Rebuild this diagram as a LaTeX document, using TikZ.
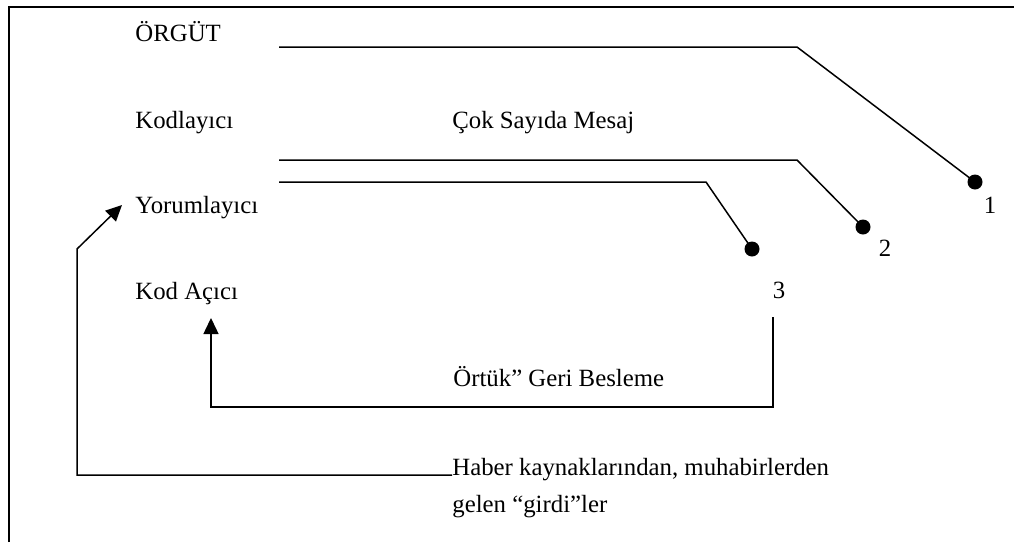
\documentclass[tikz,border=0pt]{standalone}
\usepackage{fontspec}
\setmainfont{Liberation Serif}
\usetikzlibrary{arrows.meta}
\begin{document}
\begin{tikzpicture}[x=0.5pt,y=-0.5pt]

    \tikzset{
      txt/.style={
        anchor=base west,
        inner sep=0pt,
        font=\fontsize{12.4}{14}\selectfont,
      },
      num/.style={
        anchor=base,
        inner sep=0pt,
        font=\fontsize{12.4}{14}\selectfont,
      },
      dot/.style={
        circle,
        fill=black,
        inner sep=0pt,
        minimum size=7.5pt,
      },
      wire/.style={line width=0.75pt},
      arr/.style={wire,-{Triangle[length=8pt,width=7.5pt]}},
    }
    \useasboundingbox (0,0) rectangle (1014,542);

	% frame
	\draw[line width=1pt] (9,542)--(9,7)--(1014,7);

	% left column
	\node[txt] (orgut) at (135,41) {ÖRGÜT};
	\node[txt] (kodlayici) at (135,128) {Kodlayıcı};
	\node[txt] (yorumlayici) at (135,213) {Yorumlayıcı};
	\node[txt] (kodacici) at (135,299) {Kod Açıcı};
	\node[txt] (mesaj) at (452,128) {Çok Sayıda Mesaj};

	% message lines
	\node[dot] (d1) at (975,182) {};
	\node[dot] (d2) at (863,227) {};
	\node[dot] (d3) at (752,249) {};
	\node[num] (n1) at (990,213) {1};
	\node[num] (n2) at (885,256) {2};
	\node[num] (n3) at (779,298) {3};
	\coordinate (m1) at (279,47);
	\coordinate (m2) at (279,160);
	\coordinate (m3) at (279,182);
	\draw[wire] (m1)--(797,47)--(d1.center);
	\draw[wire] (m2)--(797,160)--(d2.center);
	\draw[wire] (m3)--(706,182)--(d3.center);

	% feedback
	\node[txt] (ortuk) at (453,386) {Örtük” Geri Besleme};
	\coordinate (fb) at (773,317);
	\coordinate (fbend) at (211,318);
	\draw[arr] (fb)--(773,407)--(211,407)--(fbend);

	% inputs
	\node[txt] (haber) at (452,475) {Haber kaynaklarından, muhabirlerden};
	\node[txt] (gelen) at (452,512) {gelen “girdi”ler};
	\coordinate (inend) at (122,205);
	\draw[arr] (haber.base west)--(77,475)--(77,249)--(inend);

\end{tikzpicture}
\end{document}
